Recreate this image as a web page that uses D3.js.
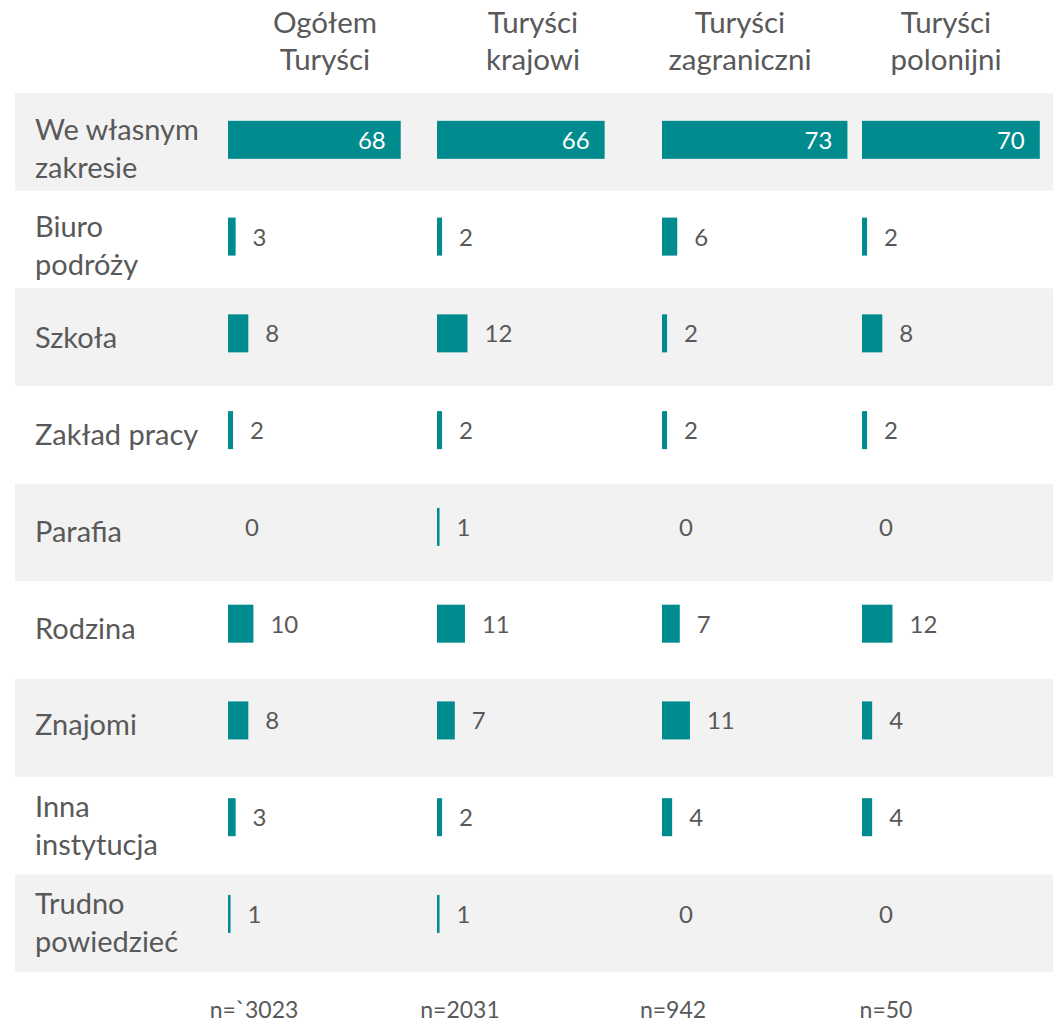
<!DOCTYPE html>
<html>
<head>
<meta charset="utf-8">
<script src="https://cdn.jsdelivr.net/npm/d3@7"></script>
<style>
  body { margin: 0; background: #fff; }
  text { font-family: Lato, "Open Sans", sans-serif; fill: #595959; }
</style>
</head>
<body>
<div id="chart"></div>
<script>
// categories (row labels, "|" = line break)
var categories = ["We własnym|zakresie", "Biuro|podróży", "Szkoła", "Zakład pracy", "Parafia",
  "Rodzina", "Znajomi", "Inna|instytucja", "Trudno|powiedzieć"];
// column groups
var groups = ["Ogółem|Turyści", "Turyści|krajowi", "Turyści|zagraniczni", "Turyści|polonijni"];
// values in %
var ogolem = [68, 3, 8, 2, 0, 10, 8, 3, 1];
var krajowi = [66, 2, 12, 2, 1, 11, 7, 2, 1];
var zagraniczni = [73, 6, 2, 2, 0, 7, 11, 4, 0];
var polonijni = [70, 2, 8, 2, 0, 12, 4, 4, 0];
var sampleSizes = ["n=`3023", "n=2031", "n=942", "n=50"];

var series = [ogolem, krajowi, zagraniczni, polonijni];
var width = 1053, height = 1023;
var teal = "#008b8e";

var svg = d3.select("#chart")
  .append("svg")
  .attr("width", width)
  .attr("height", height);

// row bands
var y = d3.scaleBand().domain(categories).range([93, 972]).padding(0);
// table layout: left edge of bar cells, header centres, footer centres
var col = d3.scaleOrdinal().domain(groups).range([228, 437, 662, 862]);
var headX = d3.scaleOrdinal().domain(groups).range([325, 533, 740, 946]);
var footX = d3.scaleOrdinal().domain(groups).range([254, 460, 673, 886]);
// bar length
var x = d3.scaleLinear().domain([0, 100]).range([0, 254]);

// grey stripes on every other row
svg.append("g")
  .selectAll("rect")
  .data(categories.filter(function(d, i) { return i % 2 == 0; }))
  .join("rect")
  .attr("x", 15)
  .attr("y", function(d) { return y(d); })
  .attr("width", width - 15)
  .attr("height", y.bandwidth())
  .attr("fill", "#f2f2f2");

function barCenter(c) {
  var i = categories.indexOf(c);
  return y(c) + y.bandwidth() / 2 - 2 - i * 0.9;
}

// row labels
var rowLabels = svg.append("g")
  .selectAll("text")
  .data(categories)
  .join("text")
  .attr("x", 35)
  .attr("y", function(d) {
    return d.indexOf("|") >= 0 ? barCenter(d) : barCenter(d) + 15;
  })
  .style("font-size", "29px");
rowLabels.each(function(d) {
  var lines = d.split("|");
  var t = d3.select(this);
  lines.forEach(function(line, i) {
    t.append("tspan").attr("x", 35).attr("dy", i == 0 ? 0 : 38).text(line);
  });
});

// column headers
var headers = svg.append("g")
  .selectAll("text")
  .data(groups)
  .join("text")
  .attr("text-anchor", "middle")
  .attr("y", 33)
  .style("font-size", "29.5px");
headers.each(function(d) {
  var t = d3.select(this);
  var cx = headX(d);
  d.split("|").forEach(function(line, i) {
    t.append("tspan").attr("x", cx).attr("dy", i == 0 ? 0 : 37).text(line);
  });
});

// bars + value labels per column
groups.forEach(function(g, gi) {
  var vals = series[gi];
  var gg = svg.append("g");
  var rows = categories.map(function(c, i) { return { cat: c, value: vals[i] }; });

  gg.selectAll("rect")
    .data(rows.filter(function(d) { return d.value > 0; }))
    .join("rect")
    .attr("x", col(g))
    .attr("y", function(d) { return barCenter(d.cat) - 19; })
    .attr("width", function(d) { return x(d.value); })
    .attr("height", 38)
    .attr("fill", teal);

  gg.selectAll("text")
    .data(rows)
    .join("text")
    .attr("x", function(d) {
      return d.value > 20 ? col(g) + x(d.value) - 15 : col(g) + x(d.value) + 17;
    })
    .attr("y", function(d) { return barCenter(d.cat) + 9; })
    .attr("text-anchor", function(d) { return d.value > 20 ? "end" : "start"; })
    .style("font-size", "24px")
    .style("fill", function(d) { return d.value > 20 ? "#fff" : "#595959"; })
    .text(function(d) { return d.value; });
});

// sample sizes
svg.append("g")
  .selectAll("text")
  .data(groups)
  .join("text")
  .attr("x", function(d) { return footX(d); })
  .attr("y", 1018)
  .attr("text-anchor", "middle")
  .style("font-size", "23px")
  .text(function(d, i) { return sampleSizes[i]; });
</script>
</body>
</html>
